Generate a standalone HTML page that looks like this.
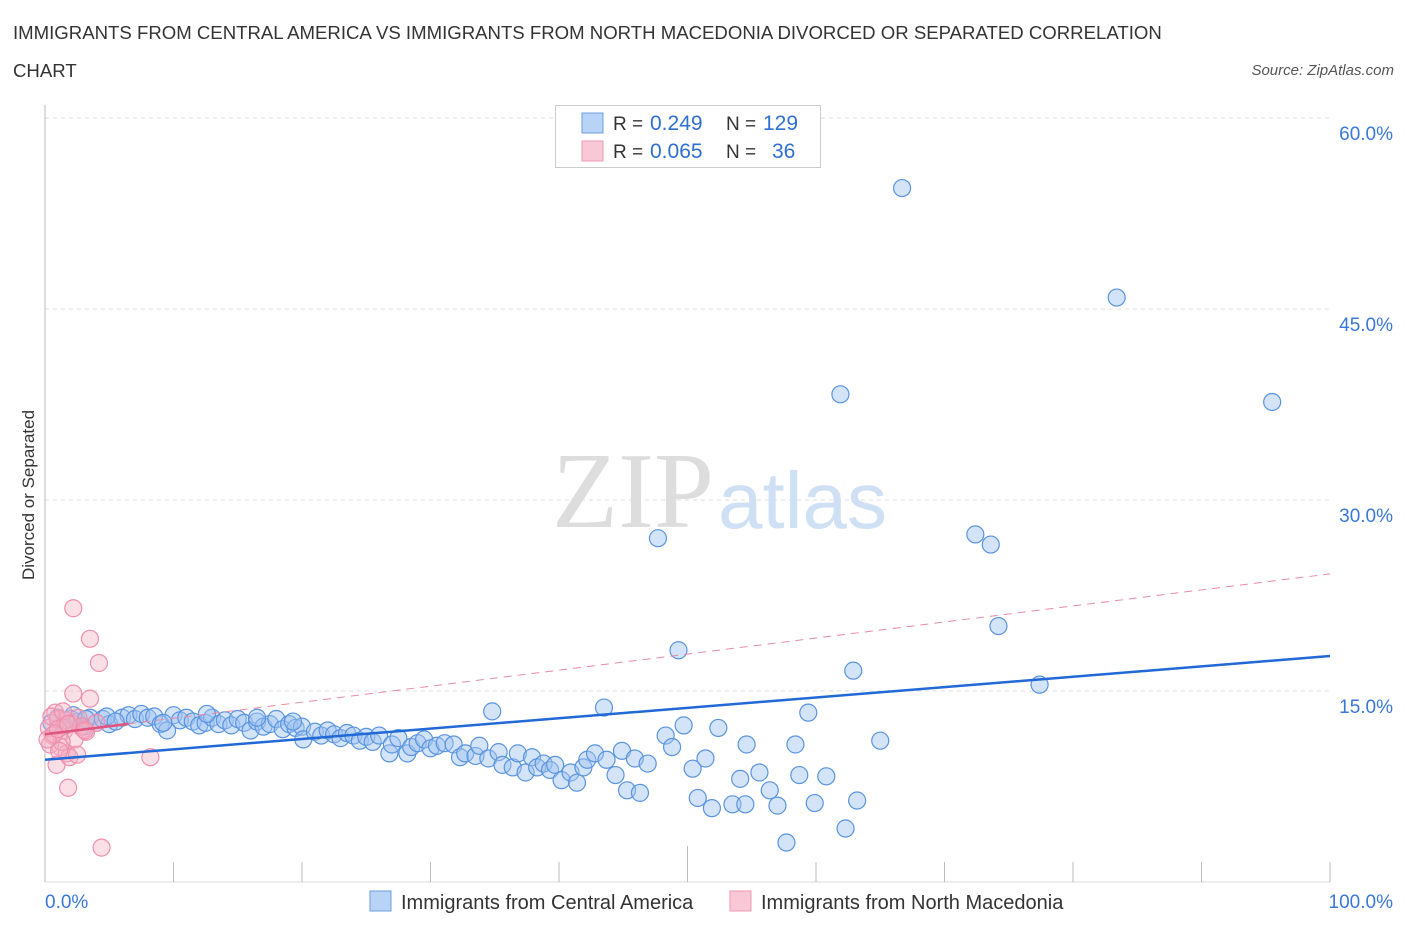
<!DOCTYPE html>
<html><head><meta charset="utf-8"><style>
body{margin:0;background:#fff;font-family:"Liberation Sans",sans-serif;}
.t{position:absolute;}
</style></head><body>
<div style="position:relative;width:1406px;height:930px;overflow:hidden">
<div class="t" style="left:13px;top:14px;font-size:18.6px;color:#333;line-height:38px;width:1250px">IMMIGRANTS FROM CENTRAL AMERICA VS IMMIGRANTS FROM NORTH MACEDONIA DIVORCED OR SEPARATED CORRELATION<br>CHART</div>
<div class="t" style="right:12px;top:62px;font-size:15px;color:#555;font-style:italic">Source: ZipAtlas.com</div>
<svg id="s" width="1406" height="930" style="position:absolute;left:0;top:0"></svg>
</div>
<script>
const blueX=[0.5,1,1.5,2,2.5,3,3.5,4,4.5,5,6,6.5,7,7.5,8,8.5,9,9.5,10,10.5,11,11.5,12,12.5,13,13.5,14,14.5,15,15.5,16,16.5,17,17.5,18,18.5,19,19.5,20,20.1,21,21.5,22,22.5,23,23.5,24,24.5,25,25.5,26,26.8,27,27.5,28.2,28.5,29,29.5,30,30.5,
31.1,31.8,32.3,32.7,33.5,33.8,34.5,35.3,35.6,36.4,36.8,37.4,37.9,38.3,38.8,39.3,39.7,40.2,40.9,41.4,41.9,42.2,42.8,43.7,44.4,44.9,45.3,45.9,46.3,46.9,
66.7,83.4,61.9,95.5,47.7,72.4,73.6,74.2,49.3,62.9,77.4,34.8,43.5,59.4,49.7,52.4,48.3,48.8,54.6,58.4,65.0,51.4,50.4,55.6,54.1,58.7,60.8,56.4,50.8,51.9,53.5,54.5,57.0,59.9,63.2,62.3,57.7,
2.2,3.2,4.8,5.5,9.2,12.6,16.5,19.3];
const blueY=[12.5,12.9,12.3,12.8,12.6,12.2,12.9,12.5,12.8,12.4,12.9,13.1,12.8,13.2,12.9,13.0,12.4,11.9,13.1,12.7,12.9,12.6,12.3,12.5,12.9,12.4,12.7,12.3,12.8,12.5,11.9,12.6,12.2,12.4,12.8,12.0,12.4,12.1,12.2,11.2,11.8,11.5,11.9,11.6,11.3,11.7,11.5,11.1,11.4,11.0,11.5,10.1,10.8,11.3,10.1,10.6,10.9,11.2,10.5,10.7,
10.9,10.8,9.8,10.1,9.9,10.7,9.7,10.2,9.2,9.0,10.1,8.6,9.8,9.0,9.3,8.8,9.2,8.0,8.6,7.8,9.0,9.6,10.1,9.6,8.4,10.3,7.2,9.7,7.0,9.3,
54.5,45.9,38.3,37.7,27.0,27.3,26.5,20.1,18.2,16.6,15.5,13.4,13.7,13.3,12.3,12.1,11.5,10.6,10.8,10.8,11.1,9.7,8.9,8.6,8.1,8.4,8.3,7.2,6.6,5.8,6.1,6.1,6.0,6.2,6.4,4.2,3.1,
13.1,12.8,13.0,12.6,12.5,13.2,12.9,12.6];
const pinkX=[2.2,3.5,4.2,2.2,3.5,8.2,1.8,4.4,0.3,0.6,0.8,1.0,1.2,1.5,1.7,2.0,2.3,2.6,3.0,0.4,0.9,1.3,1.6,1.9,0.5,1.1,2.8,3.2,0.7,1.4,2.5,4.0,0.2,1.0,1.8,3.1];
const pinkY=[21.5,19.1,17.2,14.8,14.4,9.8,7.4,2.7,12.1,11.5,13.3,12.8,10.6,11.9,10.1,12.5,11.2,12.9,12.0,10.8,9.2,11.0,12.7,9.8,13.0,10.3,12.2,11.8,11.6,13.4,10.0,12.5,11.2,12.0,12.4,11.9];
const blueTrend=[9.6,17.75];
const pinkTrend=[11.6,24.2];
const yTicks=[15,30,45,60];
const svg=document.getElementById('s');const NS='http://www.w3.org/2000/svg';
const X=v=>45+v*12.85, Y=v=>882-v*12.733;
function mk(t,a,name,p){const e=document.createElementNS(NS,t);for(const k in a)e.setAttribute(k,a[k]);


(p||svg).appendChild(e);return e;}
yTicks.forEach(v=>{mk('line',{x1:45,x2:1330,y1:Y(v),y2:Y(v),stroke:'#ddd','stroke-dasharray':'4,4'},'grid-line');
const t=mk('text',{x:1393,y:Y(v)+22,'text-anchor':'end','font-size':19,fill:'#3a78d8'},'y-tick-label');t.textContent=v.toFixed(1)+'%';});
mk('line',{x1:45,x2:45,y1:105,y2:882,stroke:'#bbb'},'y-axis-line');
mk('line',{x1:45,x2:1330,y1:882,y2:882,stroke:'#ddd'},'x-axis-line');
for(let i=0;i<=10;i++){mk('line',{x1:X(i*10),x2:X(i*10),y1:i==5?846:862,y2:882,stroke:'#bbb'},'x-tick');}
let t=mk('text',{x:45,y:908,'font-size':19,fill:'#3a78d8'},'x-tick-label');t.textContent='0.0%';
t=mk('text',{x:1393,y:908,'text-anchor':'end','font-size':19,fill:'#3a78d8'},'x-tick-label');t.textContent='100.0%';
t=mk('text',{x:34,y:495,'text-anchor':'middle','font-size':17,fill:'#333',transform:'rotate(-90 34 495)'},'y-axis-title');t.textContent='Divorced or Separated';
t=mk('text',{x:714,y:527,'text-anchor':'end','font-size':108,fill:'#ddd','font-family':'Liberation Serif'},'watermark-zip');t.textContent='ZIP';
t=mk('text',{x:718,y:528,'font-size':80,fill:'#cfe0f4'},'watermark-atlas');t.textContent='atlas';
blueX.forEach((x,i)=>mk('circle',{cx:X(x),cy:Y(blueY[i]),r:8.5,fill:'rgba(160,196,240,0.45)',stroke:'#5a94e0','stroke-width':1.2},'point-central-america'));
pinkX.forEach((x,i)=>mk('circle',{cx:X(x),cy:Y(pinkY[i]),r:8.5,fill:'rgba(245,175,195,0.4)',stroke:'#ee8fae','stroke-width':1.2},'point-north-macedonia'));
mk('line',{x1:X(0),y1:Y(blueTrend[0]),x2:X(100),y2:Y(blueTrend[1]),stroke:'#2169d6','stroke-width':2.5},'trend-central-america');
const ps=(pinkTrend[1]-pinkTrend[0])/100;
mk('line',{x1:X(6.5),y1:Y(pinkTrend[0]+ps*6.5),x2:X(100),y2:Y(pinkTrend[1]),stroke:'#e88aa8','stroke-width':1,'stroke-dasharray':'8,6'},'trend-north-macedonia-dashed');
mk('line',{x1:X(0),y1:Y(pinkTrend[0]),x2:X(6.5),y2:Y(pinkTrend[0]+ps*6.5),stroke:'#e0557e','stroke-width':2.5},'trend-north-macedonia');
const g=mk('g',{},'legend');
mk('rect',{x:555.5,y:105.5,width:265,height:62,fill:'#fff',stroke:'#ccc'},'legend-box',g);
mk('rect',{x:582,y:113,width:21,height:20,fill:'#b8d3f5',stroke:'#6a9fe0'},'legend-swatch-blue',g);
mk('rect',{x:582,y:141,width:21,height:20,fill:'#f8c8d6',stroke:'#ee9ab4'},'legend-swatch-pink',g);
[[130,'0.249','129',763],[158,'0.065','36',772]].forEach(r=>{
let a=mk('text',{x:613,y:r[0],'font-size':19,fill:'#333'},'legend-r-label',g);a.textContent='R = ';
a=mk('text',{x:650,y:r[0],'font-size':21,fill:'#2f6fd0'},'legend-r-value',g);a.textContent=r[1];
a=mk('text',{x:726,y:r[0],'font-size':19,fill:'#333'},'legend-n-label',g);a.textContent='N = ';
a=mk('text',{x:r[3],y:r[0],'font-size':21,fill:'#2f6fd0'},'legend-n-value',g);a.textContent=r[2];});
mk('rect',{x:370,y:891,width:21,height:20,fill:'#b8d3f5',stroke:'#6a9fe0'},'bottom-legend-swatch-blue');
t=mk('text',{x:401,y:909,'font-size':20,fill:'#333'},'bottom-legend-central-america');t.textContent='Immigrants from Central America';
mk('rect',{x:730,y:891,width:21,height:20,fill:'#f8c8d6',stroke:'#ee9ab4'},'bottom-legend-swatch-pink');
t=mk('text',{x:761,y:909,'font-size':20,fill:'#333'},'bottom-legend-north-macedonia');t.textContent='Immigrants from North Macedonia';
</script>
</body></html>
